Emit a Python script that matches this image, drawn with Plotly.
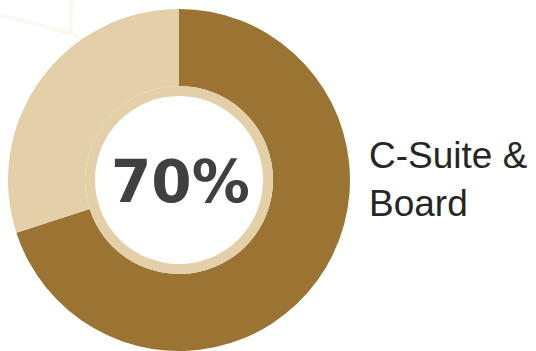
import plotly.graph_objects as go

# Share of respondents
labels = ["C-Suite & Board", "Other"]
values = [70, 30]
colors = ["#9B7433", "#E3CFA8"]
center_text = "70%"
side_label = "C-Suite &<br>Board"

W, H = 536, 351
cx, cy, R = 179, 180, 171          # donut centre / outer radius (px)
r_ring_out, r_ring_in = 94, 84     # inner beige ring (px)


def px_x(x):
    return x / W


def px_y(y):
    return 1 - y / H


fig = go.Figure(
    go.Pie(
        labels=labels,
        values=values,
        marker=dict(colors=colors, line=dict(width=0)),
        hole=r_ring_out / R,
        sort=False,
        direction="clockwise",
        rotation=0,
        textinfo="none",
        hoverinfo="label+percent",
        showlegend=False,
        domain=dict(x=[px_x(cx - R), px_x(cx + R)], y=[px_y(cy + R), px_y(cy - R)]),
    )
)

shapes = []
# faint decorative strokes in the top-left corner
for (x0, y0, x1, y1) in [(0, 15, 70, 33), (70, 33, 115, 55), (72, 0, 70, 33)]:
    shapes.append(dict(type="line", xref="paper", yref="paper",
                       x0=px_x(x0), y0=px_y(y0), x1=px_x(x1), y1=px_y(y1),
                       line=dict(color="rgba(242,210,185,0.18)", width=4), layer="below"))
# beige ring and white centre inside the hole
shapes.append(dict(type="circle", xref="paper", yref="paper",
                   x0=px_x(cx - r_ring_out), x1=px_x(cx + r_ring_out),
                   y0=px_y(cy + r_ring_out), y1=px_y(cy - r_ring_out),
                   fillcolor="#E3CFA8", line=dict(width=0), layer="above"))
shapes.append(dict(type="circle", xref="paper", yref="paper",
                   x0=px_x(cx - r_ring_in), x1=px_x(cx + r_ring_in),
                   y0=px_y(cy + r_ring_in), y1=px_y(cy - r_ring_in),
                   fillcolor="#FFFFFF", line=dict(width=0), layer="above"))

annotations = [
    dict(text=f"<b>{center_text}</b>", x=px_x(cx + 1), y=px_y(cy + 2),
         xref="paper", yref="paper", showarrow=False, xanchor="center", yanchor="middle",
         font=dict(family="DejaVu Sans", size=58, color="#404040")),
    dict(text=side_label, x=px_x(367), y=px_y(179), xref="paper", yref="paper",
         showarrow=False, xanchor="left", yanchor="middle", align="left",
         font=dict(family="Liberation Sans", size=37, color="#262626")),
]

fig.update_layout(
    width=W, height=H,
    margin=dict(l=0, r=0, t=0, b=0),
    paper_bgcolor="white", plot_bgcolor="white",
    shapes=shapes, annotations=annotations,
)

fig.write_html("out.html")
